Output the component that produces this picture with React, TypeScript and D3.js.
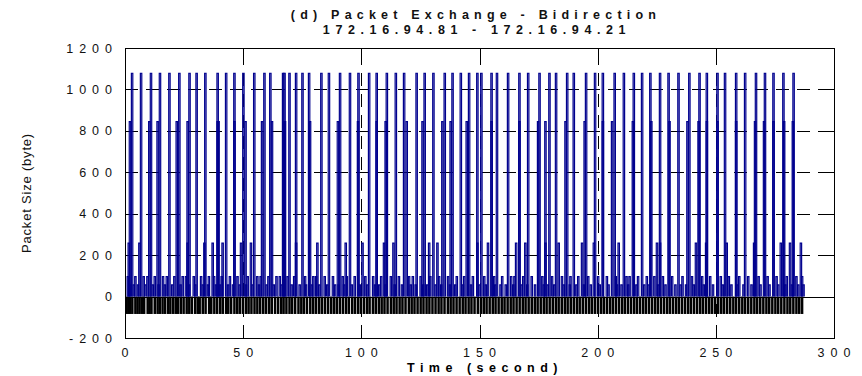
import * as d3 from "d3";

const W = 862;
const H = 376;
const MARGIN = { top: 48, right: 28, bottom: 38, left: 125 };

const X_TICKS = [0, 50, 100, 150, 200, 250, 300];
const Y_TICKS = [-200, 0, 200, 400, 600, 800, 1000, 1200];

// blue (outgoing) packets, time in seconds, grouped by size level
const bigTimes = [2.7, 6.5, 10.7, 14.5, 18.5, 22.7, 27.0, 30.0, 33.7, 38.9, 42.5, 46.0, 49.8, 54.4, 58.7, 61.2, 66.6, 67.2, 69.3, 72.1, 74.8, 77.6, 82.8, 86.0, 90.7, 94.9, 98.5, 103.0, 106.2, 110.5, 114.3, 117.8, 123.1, 126.5, 130.2, 135.0, 138.3, 141.8, 145.3, 148.8, 150.5, 154.8, 157.1, 161.8, 166.6, 170.3, 175.1, 179.3, 182.1, 186.8, 189.6, 194.8, 198.6, 201.9, 206.9, 210.8, 215.0, 218.5, 222.0, 226.1, 229.7, 233.9, 238.5, 242.8, 245.9, 250.4, 253.6, 258.3, 262.1, 266.7, 270.5, 274.1, 278.3, 282.6];
const bigSize = 1078;

const midTimes = [1.8, 10.0, 13.5, 21.6, 26.2, 38.9, 39.3, 46.0, 50.7, 57.7, 61.9, 67.0, 67.4, 78.0, 89.8, 98.3, 106.2, 110.0, 118.9, 125.6, 134.0, 137.5, 144.3, 154.8, 166.6, 174.5, 177.6, 186.1, 194.2, 201.9, 205.8, 214.6, 222.4, 230.1, 237.7, 242.4, 245.9, 250.4, 258.3, 266.3, 270.1, 274.1, 278.6, 282.3];
const midSize = 845;

const lowTimes = [1.3, 5.8, 26.2, 33.3, 36.8, 41.0, 48.8, 53.0, 72.1, 81.1, 93.1, 100.2, 109.3, 113.3, 128.4, 131.9, 148.8, 153.3, 165.2, 169.1, 177.6, 183.2, 193.1, 198.1, 208.6, 224.8, 226.1, 241.3, 245.6, 254.3, 265.9, 277.2, 281.1, 285.7];
const lowSize = 258;

const smallTimes = [0.9, 4.1, 7.6, 9.2, 12.3, 15.8, 17.4, 20.6, 24.1, 25.5, 28.8, 31.9, 35.2, 37.4, 40.6, 44.1, 47.3, 51.6, 55.7, 57.1, 60.4, 63.8, 65.2, 68.5, 71.3, 75.9, 79.4, 80.6, 84.2, 87.7, 91.8, 93.6, 96.9, 101.4, 104.7, 108.1, 112.2, 115.6, 119.9, 121.5, 124.8, 128.9, 132.6, 136.4, 140.1, 143.2, 146.9, 151.7, 155.9, 159.3, 163.1, 164.5, 168.2, 171.8, 176.3, 180.4, 184.6, 188.2, 191.5, 195.7, 199.9, 203.6, 207.4, 211.9, 213.2, 216.8, 220.5, 223.7, 227.3, 231.2, 235.6, 239.6, 243.9, 247.3, 251.8, 255.2, 259.6, 263.4, 267.8, 271.6, 275.4, 279.7, 283.8, 286.2];
const smallSize = 96;

const tinyTimes = [1.6, 3.4, 5.2, 8.3, 11.5, 13.9, 16.6, 19.7, 23.2, 26.8, 29.4, 32.6, 34.8, 38.2, 39.9, 43.3, 45.4, 48.2, 50.9, 53.7, 56.4, 59.6, 62.7, 65.9, 70.2, 73.6, 76.3, 78.8, 81.9, 85.3, 88.6, 90.1, 92.4, 95.7, 99.1, 102.2, 105.5, 107.3, 109.9, 113.8, 116.9, 120.6, 122.7, 125.9, 127.6, 131.1, 133.5, 137.2, 139.4, 142.7, 146.1, 149.6, 152.4, 156.3, 158.6, 160.8, 164.0, 167.5, 169.9, 173.2, 176.9, 178.6, 181.3, 185.4, 187.9, 190.7, 193.9, 196.8, 200.6, 204.3, 207.9, 209.8, 212.6, 216.1, 219.4, 221.2, 225.3, 228.4, 232.6, 234.8, 237.1, 240.4, 244.6, 248.5, 252.7, 256.3, 258.9, 261.4, 264.8, 268.6, 272.4, 276.1, 279.1, 281.9, 284.6, 286.8];
const tinySize = 56;

// black (incoming) packets, drawn as negative size
const ackTimes = [0.6, 1.4, 2.2, 3.1, 4.4, 5.3, 6.2, 7.3, 8.1, 9.6, 10.4, 11.2, 12.6, 13.8, 14.7, 15.9, 17.0, 18.3, 19.2, 20.4, 21.5, 22.4, 23.6, 24.8, 26.1, 27.2, 28.3, 29.7, 30.8, 31.6, 32.9, 34.1, 35.6, 36.5, 37.8, 39.0, 40.3, 41.4, 42.8, 43.7, 44.9, 46.3, 47.5, 48.6, 49.9, 51.2, 52.3, 53.5, 54.8, 56.0, 57.2, 58.5, 59.7, 61.0, 62.1, 63.5, 64.8, 66.1, 67.1, 68.3, 69.6, 70.7, 72.0, 73.4, 74.6, 75.7, 77.0, 78.4, 79.6, 80.8, 82.1, 83.3, 84.6, 85.9, 87.2, 88.4, 89.6, 90.9, 92.2, 93.5, 94.7, 96.1, 97.3, 98.6, 99.8, 101.1, 102.4, 103.5, 104.9, 106.1, 107.4, 108.6, 109.8, 111.1, 112.5, 113.7, 114.9, 116.2, 117.4, 118.7, 120.1, 121.3, 122.5, 123.8, 125.1, 126.3, 127.6, 128.8, 130.1, 131.4, 132.7, 133.9, 135.2, 136.6, 137.8, 139.0, 140.3, 141.6, 142.9, 144.1, 145.4, 146.6, 147.9, 149.3, 150.6, 151.8, 153.0, 154.3, 155.6, 156.8, 158.1, 159.4, 160.6, 161.9, 163.2, 164.4, 165.7, 167.0, 168.3, 169.5, 170.8, 172.1, 173.4, 174.6, 175.9, 177.2, 178.4, 179.7, 181.0, 182.3, 183.5, 184.8, 186.1, 187.3, 188.6, 189.9, 191.2, 192.4, 193.7, 195.0, 196.3, 197.5, 198.8, 200.1, 201.4, 202.6, 203.9, 205.2, 206.4, 207.7, 209.0, 210.3, 211.5, 212.8, 214.1, 215.4, 216.6, 217.9, 219.2, 220.4, 221.7, 223.0, 224.3, 225.5, 226.8, 228.1, 229.4, 230.6, 231.9, 233.2, 234.4, 235.7, 237.0, 238.3, 239.5, 240.8, 242.1, 243.4, 244.6, 245.9, 247.2, 248.4, 249.7, 251.0, 252.3, 253.5, 254.8, 256.1, 257.4, 258.6, 259.9, 261.2, 262.4, 263.7, 265.0, 266.3, 267.5, 268.8, 270.1, 271.4, 272.6, 273.9, 275.2, 276.4, 277.7, 279.0, 280.3, 281.5, 282.8, 284.1, 285.3, 286.5];
const ackSize = -84;

const FONT = "'Liberation Sans', Arial, Helvetica, sans-serif";
const PULSE = 0.6; // seconds each outgoing packet is held before dropping back

export default function App() {
  const x = d3.scaleLinear().domain([0, 300]).range([MARGIN.left, W - MARGIN.right]);
  const y = d3.scaleLinear().domain([-200, 1200]).range([H - MARGIN.bottom, MARGIN.top]);
  const x0 = x.range()[0];
  const x1 = x.range()[1];
  const yTop = y.range()[1];
  const yBot = y.range()[0];

  const blue = [
    ...bigTimes.map((t) => [t, bigSize]),
    ...midTimes.map((t) => [t, midSize]),
    ...lowTimes.map((t) => [t, lowSize]),
    ...smallTimes.map((t) => [t, smallSize]),
    ...tinyTimes.map((t) => [t, tinySize]),
  ];

  // step up to the packet size, hold, step back to zero
  const pulse = (t: number, v: number) => {
    const a = x(t);
    const b = x(t + PULSE);
    return `M${a},${y(0)}V${y(v)}H${b}V${y(0)}`;
  };

  return (
    <svg width={W} height={H} style={{ position: "absolute", left: 0, top: 0, background: "#fff" }}>
      {/* dashed grid */}
      <g stroke="#000" strokeWidth={1} strokeDasharray="13,8">
        {Y_TICKS.filter((v) => v > -200 && v < 1200 && v !== 0).map((v) => (
          <line key={"gy" + v} x1={x0} x2={x1} y1={Math.round(y(v)) + 0.5} y2={Math.round(y(v)) + 0.5} />
        ))}
        {X_TICKS.filter((v) => v > 0 && v < 300).map((v) => (
          <line key={"gx" + v} x1={Math.round(x(v)) + 0.5} x2={Math.round(x(v)) + 0.5} y1={yBot} y2={yTop} />
        ))}
      </g>

      {/* incoming packets */}
      <g stroke="#000" strokeWidth={2.5}>
        {ackTimes.map((t, i) => (
          <line key={"a" + i} x1={x(t)} x2={x(t)} y1={y(0)} y2={y(ackSize)} />
        ))}
      </g>

      {/* outgoing packets */}
      <g stroke="#00008e" strokeWidth={1.2} fill="none">
        {blue.map(([t, v], i) => (
          <path key={"b" + i} d={pulse(t, v)} />
        ))}
      </g>

      {/* zero line */}
      <line x1={x0} x2={x1} y1={Math.round(y(0)) + 0.5} y2={Math.round(y(0)) + 0.5} stroke="#000" strokeWidth={1} />

      {/* small ticks on top / right */}
      <g stroke="#000" strokeWidth={1}>
        {X_TICKS.map((v) => (
          <line key={"tt" + v} x1={Math.round(x(v)) + 0.5} x2={Math.round(x(v)) + 0.5} y1={yTop} y2={yTop + 4} />
        ))}
        {Y_TICKS.map((v) => (
          <line key={"tr" + v} x1={x1} x2={x1 - 4} y1={Math.round(y(v)) + 0.5} y2={Math.round(y(v)) + 0.5} />
        ))}
      </g>

      {/* frame */}
      <rect x={x0 + 0.5} y={yTop + 0.5} width={x1 - x0} height={yBot - yTop} fill="none" stroke="#000" strokeWidth={1} />

      {/* tick labels */}
      <g fontFamily={FONT} fontSize={12.5} fill="#111" letterSpacing={6}>
        {Y_TICKS.map((v) => (
          <text key={"yl" + v} x={118} y={y(v)} dy="0.36em" textAnchor="end">
            {v}
          </text>
        ))}
        {X_TICKS.map((v) => (
          <text key={"xl" + v} x={x(v) + 3} y={357} textAnchor="middle">
            {v}
          </text>
        ))}
      </g>

      {/* axis titles */}
      <text
        x={485}
        y={372}
        textAnchor="middle"
        fontFamily={FONT}
        fontSize={12.5}
        fontWeight="bold"
        letterSpacing={5.5}
      >
        Time (second)
      </text>
      <text
        transform={`translate(31,${(yTop + yBot) / 2}) rotate(-90)`}
        textAnchor="middle"
        fontFamily={FONT}
        fontSize={13}
        letterSpacing={0.8}
        fill="#111"
      >
        Packet Size (byte)
      </text>

      {/* title */}
      <g fontFamily={FONT} fontWeight="bold" textAnchor="middle" fill="#111">
        <text x={476} y={19} fontSize={12.5} letterSpacing={5.2}>
          (d) Packet Exchange - Bidirection
        </text>
        <text x={477} y={34} fontSize={12.5} letterSpacing={5.6}>
          172.16.94.81 - 172.16.94.21
        </text>
      </g>
    </svg>
  );
}
